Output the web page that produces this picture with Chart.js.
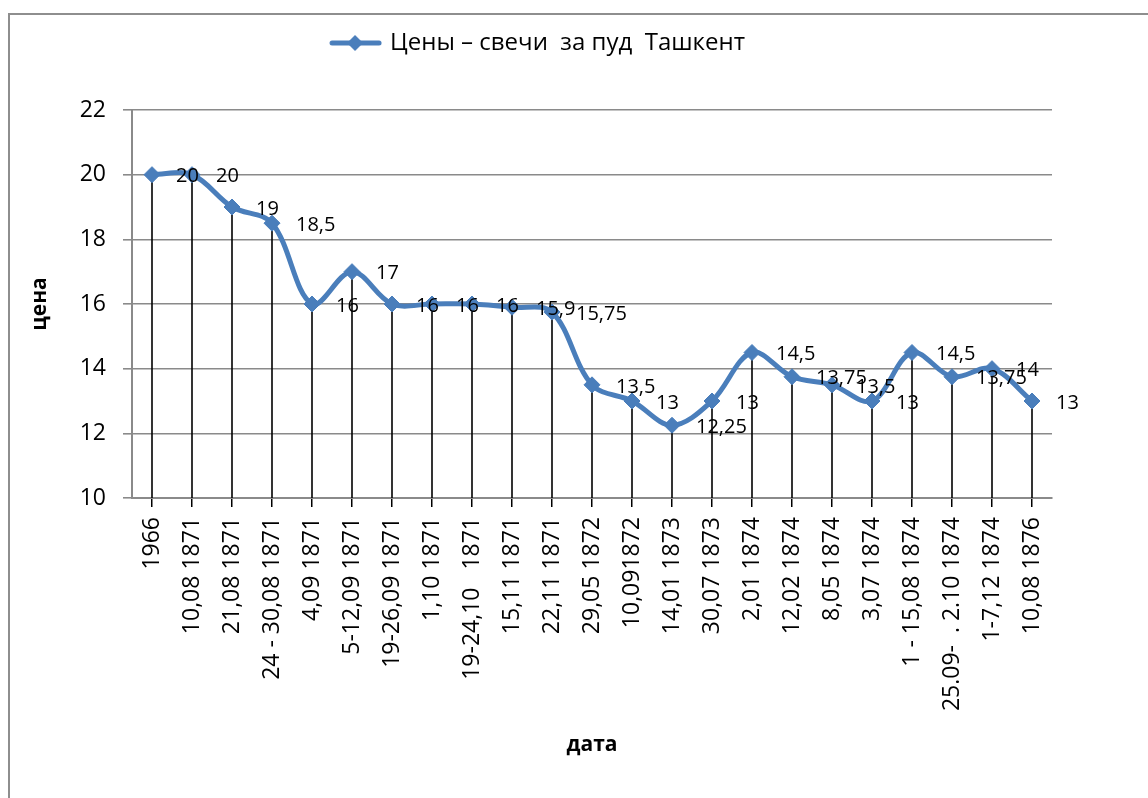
<!DOCTYPE html>
<html>
<head>
<meta charset="utf-8">
<script src="https://cdn.jsdelivr.net/npm/chart.js@4/dist/chart.umd.min.js"></script>
<style>
    html, body {
        margin: 0;
        padding: 0;
        background: #fff;
        overflow: hidden;
    }
    .frame {
        position: absolute;
        left: 8px;
        top: 13px;
        width: 1200px;
        height: 900px;
        border-left: 2px solid #8e8e8e;
        border-top: 2px solid #8e8e8e;
    }
    .chart-box {
        position: absolute;
        left: 0;
        top: 0;
        width: 1148px;
        height: 798px;
    }
</style>
</head>
<body>
<div class="frame"></div>
<div class="chart-box"><canvas id="priceChart"></canvas></div>
<script>
    const dateLabels = [
        '1966', '10,08 1871', '21,08 1871', '24 - 30,08 1871', '4,09 1871',
        '5-12,09 1871', '19-26,09 1871', '1,10 1871', '19-24,10   1871', '15,11 1871',
        '22,11 1871', '29,05 1872', '10,091872', '14,01 1873', '30,07 1873',
        '2,01 1874', '12,02 1874', '8,05 1874', '3,07 1874', '1 - 15,08 1874',
        '25.09-  . 2.10 1874', '1-7,12 1874', '10,08 1876'
    ];
    const candlePrices = [
        20, 20, 19, 18.5, 16,
        17, 16, 16, 16, 15.9,
        15.75, 13.5, 13, 12.25, 13,
        14.5, 13.75, 13.5, 13, 14.5,
        13.75, 14, 13
    ];
    const priceTicks = [10, 12, 14, 16, 18, 20, 22];

    const FONT = "'Open Sans', 'Noto Sans', sans-serif";
    const LINE_COLOR = '#4a7ebb';
    const GRID_COLOR = '#8a8a8a';

    function makeLegendSymbol() {
        const c = document.createElement('canvas');
        c.width = 56;
        c.height = 20;
        const ctx = c.getContext('2d');
        ctx.strokeStyle = LINE_COLOR;
        ctx.lineWidth = 5;
        ctx.lineCap = 'round';
        ctx.beginPath();
        ctx.moveTo(6, 10);
        ctx.lineTo(53, 10);
        ctx.stroke();
        ctx.fillStyle = LINE_COLOR;
        ctx.beginPath();
        ctx.moveTo(29 - 8, 10);
        ctx.lineTo(29, 2);
        ctx.lineTo(29 + 8, 10);
        ctx.lineTo(29, 18);
        ctx.closePath();
        ctx.fill();
        return c;
    }

    // vertical drop lines from every point down to the category axis
    const dropLines = {
        id: 'dropLines',
        beforeDatasetsDraw(chart) {
            const meta = chart.getDatasetMeta(0);
            const bottom = chart.chartArea.bottom;
            const ctx = chart.ctx;
            ctx.save();
            ctx.strokeStyle = '#000';
            ctx.lineWidth = 1.6;
            meta.data.forEach(point => {
                ctx.beginPath();
                ctx.moveTo(point.x, point.y);
                ctx.lineTo(point.x, bottom);
                ctx.stroke();
            });
            ctx.restore();
        }
    };

    // value labels to the right of each marker
    const valueLabels = {
        id: 'valueLabels',
        afterDatasetsDraw(chart) {
            const meta = chart.getDatasetMeta(0);
            const values = chart.data.datasets[0].data;
            const ctx = chart.ctx;
            ctx.save();
            ctx.font = '20px ' + FONT;
            ctx.fillStyle = '#000';
            ctx.textAlign = 'left';
            ctx.textBaseline = 'middle';
            meta.data.forEach((point, i) => {
                const text = String(values[i]).replace('.', ',');
                ctx.fillText(text, point.x + 24, point.y + 2);
            });
            ctx.restore();
        }
    };

    new Chart(document.getElementById('priceChart'), {
        type: 'line',
        data: {
            labels: dateLabels,
            datasets: [
                {
                    label: 'Цены – свечи  за пуд  Ташкент',
                    data: candlePrices,
                    borderColor: LINE_COLOR,
                    backgroundColor: LINE_COLOR,
                    borderWidth: 5,
                    tension: 0.35,
                    pointStyle: 'rectRot',
                    pointRadius: 8,
                    pointBorderWidth: 1,
                    pointBackgroundColor: LINE_COLOR,
                    pointBorderColor: LINE_COLOR
                }
            ]
        },
        options: {
            responsive: true,
            maintainAspectRatio: false,
            animation: false,
            layout: {
                padding: { left: 23, right: 96, top: 22, bottom: 36 }
            },
            scales: {
                x: {
                    offset: true,
                    afterFit: scale => { scale.height = 264; },
                    grid: {
                        offset: false,
                        drawOnChartArea: false,
                        drawTicks: true,
                        tickLength: 9,
                        color: '#000',
                        lineWidth: 1.5
                    },
                    border: { color: GRID_COLOR, width: 2 },
                    ticks: {
                        autoSkip: false,
                        maxRotation: 90,
                        minRotation: 90,
                        padding: 10,
                        color: '#000',
                        font: { family: FONT, size: 23 }
                    },
                    title: {
                        display: true,
                        text: 'дата',
                        color: '#000',
                        font: { family: FONT, size: 21, weight: 'bold' }
                    }
                },
                y: {
                    min: 10,
                    max: 22,
                    afterFit: scale => { scale.width = 109; },
                    afterBuildTicks: scale => {
                        scale.ticks = priceTicks.map(value => ({ value }));
                    },
                    grid: {
                        color: GRID_COLOR,
                        lineWidth: 1.6,
                        tickLength: 9
                    },
                    border: { color: GRID_COLOR, width: 2 },
                    ticks: {
                        padding: 17,
                        color: '#000',
                        font: { family: FONT, size: 23 }
                    },
                    title: {
                        display: true,
                        text: 'цена',
                        color: '#000',
                        font: { family: FONT, size: 21, weight: 'bold' }
                    }
                }
            },
            plugins: {
                legend: {
                    position: 'top',
                    labels: {
                        usePointStyle: true,
                        pointStyle: makeLegendSymbol(),
                        pointStyleWidth: 48,
                        padding: 9,
                        color: '#000',
                        font: { family: FONT, size: 24 }
                    }
                },
                // empty title used only as spacing between legend and plot area
                title: {
                    display: true,
                    text: '',
                    weight: 500,
                    font: { size: 10 },
                    padding: { top: 0, bottom: 33 }
                },
                tooltip: { enabled: false }
            }
        },
        plugins: [dropLines, valueLabels]
    });
</script>
</body>
</html>
